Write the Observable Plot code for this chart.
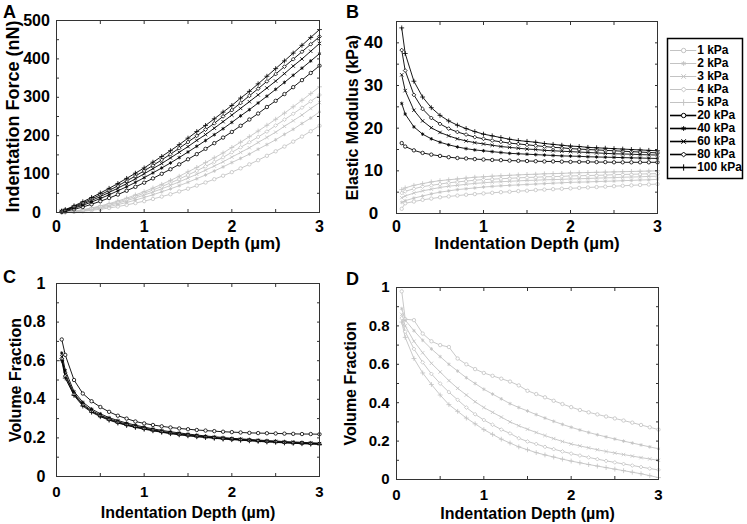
<!DOCTYPE html>
<html><head><meta charset="utf-8">
<script src="https://cdn.jsdelivr.net/npm/d3@7"></script>
<script src="https://cdn.jsdelivr.net/npm/@observablehq/plot@0.6"></script>
<style>
html,body{margin:0;padding:0;background:#fff;}
#root{position:relative;width:747px;height:524px;overflow:hidden;font-family:"Liberation Sans",Arial,Helvetica,sans-serif;font-weight:bold;color:#000;}
.panel{position:absolute;}
.letter{position:absolute;font-size:18px;line-height:18px;font-weight:bold;}
</style></head><body><div id="root"></div>
<script>
// ---------- data ----------
const depth = [0.06,0.1,0.2,0.3,0.4,0.5,0.6,0.7,0.8,0.9,1.0,1.1,1.2,1.3,1.4,1.5,1.6,1.7,1.8,1.9,2.0,2.1,2.2,2.3,2.4,2.5,2.6,2.7,2.8,2.9,3.0];
const series = ["1 kPa","2 kPa","3 kPa","4 kPa","5 kPa","20 kPa","40 kPa","60 kPa","80 kPa","100 kPa"];
const softSeries = ["1 kPa","2 kPa","3 kPa","4 kPa","5 kPa"];
const stiffSeries = ["20 kPa","40 kPa","60 kPa","80 kPa","100 kPa"];
const seriesSymbols = ["circle","asterisk","times","diamond2","plus","circle","asterisk","times","diamond2","plus"];

// Panel A: indentation force (nN)
const force1kPa = [0.1,0.5,1.6,3.3,5.6,8.5,11.7,15.5,19.8,24.5,29.6,35.2,41.4,47.6,54.8,61.9,70.1,78.2,86.7,95.7,105.1,115.0,125.4,136.2,147.6,159.4,171.7,184.5,197.8,211.6,225.9];
const force2kPa = [0.2,0.6,2.0,4.2,7.3,11.1,15.5,20.7,26.1,32.3,39.1,46.2,53.8,61.6,69.9,78.7,88.0,97.7,108.0,118.8,130.1,140.9,152.1,164.8,176.9,189.3,203.4,216.6,231.7,245.8,261.9];
const force3kPa = [0.3,0.8,2.7,5.5,9.1,13.6,18.7,24.4,30.9,37.9,45.4,53.4,61.7,70.5,79.8,89.7,99.5,110.3,121.0,132.0,144.3,156.3,168.6,182.4,195.6,209.2,224.5,239.0,253.8,270.7,286.4];
const force4kPa = [0.4,1.0,3.3,6.5,10.5,15.4,21.1,27.3,34.3,42.0,50.1,58.5,67.5,77.0,87.1,97.8,108.4,120.1,131.6,143.6,156.8,169.7,183.0,196.7,210.8,226.6,241.7,257.1,273.0,289.4,306.1];
const force5kPa = [0.5,1.2,3.7,7.2,11.8,17.2,23.1,29.9,37.4,45.7,54.2,63.6,73.3,83.6,94.4,105.9,117.3,129.9,142.3,155.1,169.3,183.1,197.4,212.1,227.2,242.8,258.8,275.3,292.2,309.6,327.4];
const force20kPa = [1.5,3.0,8.1,14.3,21.4,29.3,37.6,46.7,56.6,66.8,77.6,88.8,100.7,112.7,125.4,138.6,152.0,165.8,180.6,195.1,209.8,225.8,242.1,257.7,274.7,290.8,308.4,326.4,344.7,363.4,382.2];
const force40kPa = [2.4,4.5,11.2,18.9,27.3,36.4,46.1,56.4,67.1,78.4,90.7,103.2,115.9,129.0,143.1,157.6,172.4,187.4,202.6,218.2,234.7,251.6,267.8,285.2,302.8,320.7,338.8,357.3,375.8,394.6,413.6];
const force60kPa = [3.0,5.6,13.4,22.1,31.4,41.5,52.3,63.4,75.2,87.7,100.8,114.2,127.6,142.1,156.8,171.6,187.8,202.9,219.6,236.5,253.7,271.1,288.6,306.3,324.2,342.2,361.6,381.4,399.8,419.9,440.2];
const force80kPa = [3.6,6.6,15.5,25.0,35.2,46.1,57.4,69.4,82.2,94.9,108.6,122.4,137.0,151.8,167.5,183.5,199.7,215.9,232.3,250.3,266.7,285.2,303.8,322.5,341.5,360.6,379.8,399.2,418.6,438.2,457.9];
const force100kPa = [3.9,7.4,17.3,28.0,39.1,50.7,62.9,75.6,88.8,102.3,116.0,131.0,145.9,160.9,176.7,193.6,210.8,226.7,244.0,261.4,278.7,298.0,315.4,335.0,354.8,374.7,394.8,415.1,435.4,455.9,476.4];

// Panel B: elastic modulus (kPa)
const modulus1kPa = [1.1,2.4,2.8,3.2,3.5,3.8,4.0,4.2,4.4,4.55,4.7,4.85,5.0,5.1,5.25,5.35,5.5,5.6,5.7,5.8,5.9,6.0,6.1,6.2,6.3,6.4,6.5,6.6,6.7,6.8,6.9];
const modulus2kPa = [2.6,3.0,3.6,4.1,4.6,5.0,5.3,5.6,5.8,6.0,6.2,6.35,6.5,6.6,6.7,6.8,6.9,7.0,7.1,7.2,7.3,7.35,7.4,7.5,7.55,7.6,7.7,7.75,7.85,7.9,8.0];
const modulus3kPa = [3.7,4.1,4.8,5.3,5.7,6.1,6.4,6.6,6.85,7.05,7.2,7.35,7.45,7.55,7.65,7.75,7.8,7.9,7.95,8.0,8.1,8.15,8.2,8.3,8.35,8.4,8.5,8.55,8.6,8.7,8.75];
const modulus4kPa = [4.8,5.2,5.8,6.3,6.6,6.9,7.2,7.4,7.6,7.8,7.95,8.05,8.15,8.25,8.35,8.45,8.5,8.6,8.65,8.7,8.8,8.85,8.9,8.95,9.0,9.1,9.15,9.2,9.25,9.3,9.35];
const modulus5kPa = [5.6,6.0,6.6,7.0,7.4,7.7,7.9,8.1,8.3,8.5,8.6,8.75,8.85,8.95,9.05,9.15,9.2,9.3,9.35,9.4,9.5,9.55,9.6,9.65,9.7,9.75,9.8,9.85,9.9,9.95,10.0];
const modulus20kPa = [16.5,15.7,14.8,14.2,13.8,13.5,13.2,13.0,12.9,12.75,12.65,12.55,12.5,12.4,12.35,12.3,12.25,12.2,12.2,12.15,12.1,12.1,12.1,12.05,12.05,12.0,12.0,12.0,12.0,12.0,12.0];
const modulus40kPa = [25.8,23.3,20.3,18.6,17.5,16.7,16.1,15.6,15.2,14.9,14.7,14.5,14.3,14.1,14.0,13.9,13.8,13.7,13.6,13.5,13.45,13.4,13.3,13.25,13.2,13.15,13.1,13.05,13.0,12.95,12.9];
const modulus60kPa = [32.5,28.8,24.2,21.7,20.1,19.0,18.2,17.5,17.0,16.6,16.3,16.0,15.7,15.5,15.3,15.1,15.0,14.8,14.7,14.6,14.5,14.4,14.3,14.2,14.1,14.0,13.95,13.9,13.8,13.75,13.7];
const modulus80kPa = [38.3,33.5,27.8,24.5,22.4,21.0,19.9,19.1,18.5,17.9,17.5,17.1,16.8,16.5,16.3,16.1,15.9,15.7,15.5,15.4,15.2,15.1,15.0,14.9,14.8,14.7,14.6,14.5,14.4,14.3,14.2];
const modulus100kPa = [43.5,37.5,31.0,27.3,24.8,23.0,21.7,20.7,19.9,19.2,18.6,18.2,17.8,17.4,17.1,16.9,16.7,16.4,16.2,16.0,15.8,15.7,15.5,15.4,15.3,15.2,15.1,15.0,14.9,14.8,14.7];

// Panel C: volume fraction, stiff gels
const fractionC20kPa = [0.71,0.63,0.50,0.43,0.39,0.36,0.335,0.315,0.30,0.285,0.275,0.267,0.26,0.254,0.249,0.245,0.241,0.238,0.235,0.232,0.23,0.228,0.226,0.225,0.224,0.223,0.222,0.221,0.22,0.22,0.219];
const fractionC40kPa = [0.64,0.55,0.44,0.385,0.35,0.325,0.305,0.29,0.277,0.266,0.256,0.247,0.239,0.232,0.226,0.22,0.215,0.21,0.206,0.202,0.198,0.195,0.192,0.189,0.186,0.184,0.181,0.179,0.177,0.175,0.173];
const fractionC60kPa = [0.62,0.53,0.43,0.375,0.342,0.318,0.299,0.284,0.271,0.26,0.251,0.242,0.234,0.227,0.221,0.216,0.211,0.206,0.202,0.198,0.195,0.192,0.189,0.186,0.183,0.181,0.178,0.176,0.174,0.172,0.17];
const fractionC80kPa = [0.61,0.52,0.425,0.37,0.337,0.313,0.295,0.28,0.267,0.257,0.248,0.239,0.231,0.224,0.218,0.213,0.208,0.204,0.2,0.196,0.193,0.19,0.187,0.184,0.181,0.179,0.176,0.174,0.172,0.17,0.168];
const fractionC100kPa = [0.60,0.51,0.42,0.365,0.333,0.31,0.292,0.277,0.265,0.254,0.245,0.237,0.229,0.222,0.216,0.211,0.206,0.202,0.198,0.194,0.191,0.188,0.185,0.182,0.179,0.177,0.174,0.172,0.17,0.168,0.166];

// Panel D: volume fraction, soft gels
const fractionD1kPa = [0.98,0.835,0.83,0.76,0.72,0.70,0.69,0.63,0.60,0.575,0.555,0.54,0.525,0.51,0.49,0.462,0.445,0.428,0.41,0.393,0.377,0.362,0.35,0.339,0.328,0.318,0.307,0.296,0.284,0.272,0.26];
const fractionD2kPa = [0.89,0.83,0.775,0.725,0.68,0.64,0.6,0.565,0.53,0.5,0.47,0.445,0.42,0.395,0.375,0.357,0.338,0.32,0.303,0.287,0.272,0.258,0.245,0.233,0.222,0.211,0.2,0.19,0.18,0.17,0.16];
const fractionD3kPa = [0.86,0.80,0.72,0.66,0.605,0.56,0.515,0.475,0.44,0.405,0.375,0.35,0.325,0.3,0.28,0.262,0.245,0.229,0.213,0.198,0.185,0.175,0.165,0.155,0.146,0.138,0.13,0.122,0.114,0.107,0.10];
const fractionD4kPa = [0.84,0.77,0.68,0.61,0.55,0.5,0.455,0.415,0.375,0.34,0.31,0.285,0.26,0.24,0.215,0.198,0.185,0.17,0.158,0.146,0.135,0.125,0.115,0.106,0.097,0.089,0.081,0.073,0.065,0.057,0.05];
const fractionD5kPa = [0.82,0.74,0.63,0.555,0.495,0.44,0.39,0.355,0.32,0.29,0.26,0.235,0.21,0.19,0.17,0.155,0.14,0.128,0.117,0.106,0.096,0.087,0.078,0.07,0.062,0.054,0.046,0.038,0.03,0.02,0.01];

// axis ticks
const xMajorTicks = [0,1,2,3];
const xMinorTicks = [0.5,1,1.5,2,2.5];
const forceTicks = [0,100,200,300,400,500];
const forceMinorTicks = [50,100,150,200,250,300,350,400,450];
const modulusTicks = [0,10,20,30,40];
const modulusMinorTicks = [5,10,15,20,25,30,35,40];
const fractionTicks = [0,0.2,0.4,0.6,0.8,1];
const fractionMinorTicks = [0.1,0.2,0.3,0.4,0.5,0.6,0.7,0.8,0.9];

// ---------- build ----------
const FONT = '"Liberation Sans", Arial, Helvetica, sans-serif';
const FRAME = "#333";
const GRAY = "#c3c3c3";
const BLACK = "#000";
const colorScale = {domain: series, range: series.map(s => softSeries.includes(s) ? GRAY : BLACK)};
const symbolScale = {domain: series, range: seriesSymbols};
const plainNumber = d => String(d);

function tidy(pairs) {
  return pairs.flatMap(([s, vals]) => depth.map((d, i) => ({s, d, v: vals[i]})));
}

function panel(o) {
  return Plot.plot({
    width: o.w, height: o.h,
    marginTop: o.m[0], marginRight: o.m[1], marginBottom: o.m[2], marginLeft: o.m[3],
    style: {fontFamily: FONT, fontWeight: "bold", fontSize: o.tickFont + "px", color: "#000", background: "transparent", overflow: "visible"},
    x: {domain: [0, 3]},
    y: {domain: o.yDomain},
    color: colorScale,
    symbol: symbolScale,
    marks: [
      Plot.line(o.rows, {x: "d", y: "v", z: "s", stroke: "s", strokeWidth: 0.9}),
      Plot.dot(o.rows, {x: "d", y: "v", symbol: "s", stroke: "s", fill: "white", r: 1.7, strokeWidth: 0.8}),
      Plot.frame({stroke: FRAME, strokeWidth: 1}),
      Plot.axisX(xMinorTicks, {anchor: "bottom", tickSize: 3, dy: -3, fill: "none", label: null, stroke: FRAME}),
      Plot.axisX(xMinorTicks, {anchor: "top", tickSize: 3, dy: 3, fill: "none", label: null, stroke: FRAME}),
      Plot.axisY(o.yMinor, {anchor: "left", tickSize: 3, dx: 3, fill: "none", label: null, stroke: FRAME}),
      Plot.axisY(o.yMinor, {anchor: "right", tickSize: 3, dx: -3, fill: "none", label: null, stroke: FRAME}),
      Plot.axisX(xMajorTicks, {anchor: "bottom", tickSize: 0, tickPadding: o.xPad, tickFormat: plainNumber, label: null, fontSize: o.tickFont, fontWeight: "bold"}),
      Plot.axisY(o.yMajor, {anchor: "left", tickSize: 0, tickPadding: o.yPad, textAnchor: o.yAlign, tickFormat: plainNumber, label: null, fontSize: o.yTickFont || o.tickFont, fontWeight: "bold"}),
      Plot.text([o.xTitle], {frameAnchor: "bottom", textAnchor: "middle", lineAnchor: "middle", dy: o.xTitleDy, fontSize: o.titleFont, fontWeight: "bold"}),
      Plot.text([o.yTitle], {frameAnchor: "left", textAnchor: "middle", lineAnchor: "middle", rotate: -90, dx: o.yTitleDx, fontSize: o.yTitleFont || o.titleFont, fontWeight: "bold"})
    ]
  });
}

function legend() {
  return Plot.plot({
    width: 80, height: 140, marginTop: 0, marginLeft: 2, marginBottom: 0, marginRight: 3,
    style: {fontFamily: FONT, fontWeight: "bold", fontSize: "12px", color: "#000", background: "transparent", overflow: "visible"},
    x: {domain: [0, 1], axis: null},
    y: {type: "point", domain: series, padding: 0.6, axis: null},
    color: colorScale,
    symbol: symbolScale,
    marks: [
      Plot.frame({stroke: "#000", strokeWidth: 1.5, fill: "white"}),
      Plot.ruleY(series, {y: d => d, x1: 0.04, x2: 0.39, stroke: d => d, strokeWidth: d => softSeries.includes(d) ? 1 : 1.6}),
      Plot.dot(series, {x: 0.215, y: d => d, symbol: d => d, stroke: d => d, fill: "white", r: 2.2, strokeWidth: 1}),
      Plot.text(series, {x: 0.395, y: d => d, text: d => d, textAnchor: "start", fontSize: 12, fontWeight: "bold"})
    ]
  });
}

const root = document.getElementById("root");
function place(node, left, top) {
  const div = document.createElement("div");
  div.className = "panel";
  div.style.left = left + "px";
  div.style.top = top + "px";
  div.appendChild(node);
  root.appendChild(div);
}
function letter(t, left, top) {
  const d = document.createElement("div");
  d.className = "letter";
  d.textContent = t;
  d.style.left = left + "px";
  d.style.top = top + "px";
  root.appendChild(d);
}

const X_TITLE = "Indentation Depth (µm)";

place(panel({
  rows: tidy([["1 kPa", force1kPa], ["2 kPa", force2kPa], ["3 kPa", force3kPa], ["4 kPa", force4kPa], ["5 kPa", force5kPa],
              ["20 kPa", force20kPa], ["40 kPa", force40kPa], ["60 kPa", force60kPa], ["80 kPa", force80kPa], ["100 kPa", force100kPa]]),
  w: 330, h: 255, m: [20, 11, 43, 56], yDomain: [0, 500], yMajor: forceTicks, yMinor: forceMinorTicks,
  tickFont: 16, titleFont: 17, yTitleFont: 18, xPad: 8, yPad: 20, yAlign: "middle",
  xTitle: X_TITLE, xTitleDy: 31, yTitle: "Indentation Force (nN)", yTitleDx: -43
}), 0, 0);

place(panel({
  rows: tidy([["1 kPa", modulus1kPa], ["2 kPa", modulus2kPa], ["3 kPa", modulus3kPa], ["4 kPa", modulus4kPa], ["5 kPa", modulus5kPa],
              ["20 kPa", modulus20kPa], ["40 kPa", modulus40kPa], ["60 kPa", modulus60kPa], ["80 kPa", modulus80kPa], ["100 kPa", modulus100kPa]]),
  w: 320, h: 255, m: [21, 3, 42, 56], yDomain: [0, 45], yMajor: modulusTicks, yMinor: modulusMinorTicks,
  tickFont: 16, yTickFont: 17, titleFont: 17, yTitleFont: 16, xPad: 7, yPad: 23, yAlign: "middle",
  xTitle: X_TITLE, xTitleDy: 30, yTitle: "Elastic Modulus (kPa)", yTitleDx: -44
}), 340, 0);

place(panel({
  rows: tidy([["20 kPa", fractionC20kPa], ["40 kPa", fractionC40kPa], ["60 kPa", fractionC60kPa], ["80 kPa", fractionC80kPa], ["100 kPa", fractionC100kPa]]),
  w: 330, h: 264, m: [23, 11, 48, 56], yDomain: [0, 1], yMajor: fractionTicks, yMinor: fractionMinorTicks,
  tickFont: 15, yTickFont: 16, titleFont: 16, xPad: 10, yPad: 11, yAlign: "end",
  xTitle: X_TITLE, xTitleDy: 36, yTitle: "Volume Fraction", yTitleDx: -41
}), 0, 260);

place(panel({
  rows: tidy([["1 kPa", fractionD1kPa], ["2 kPa", fractionD2kPa], ["3 kPa", fractionD3kPa], ["4 kPa", fractionD4kPa], ["5 kPa", fractionD5kPa]]),
  w: 320, h: 264, m: [27, 2, 45, 56], yDomain: [0, 1], yMajor: fractionTicks, yMinor: fractionMinorTicks,
  tickFont: 15, titleFont: 16, xPad: 10, yPad: 7, yAlign: "end",
  xTitle: X_TITLE, xTitleDy: 34, yTitle: "Volume Fraction", yTitleDx: -46
}), 340, 260);

place(legend(), 665, 38);

letter("A", 3, 3);
letter("B", 346, 3);
letter("C", 3, 268);
letter("D", 346, 270);
</script>
</body></html>
